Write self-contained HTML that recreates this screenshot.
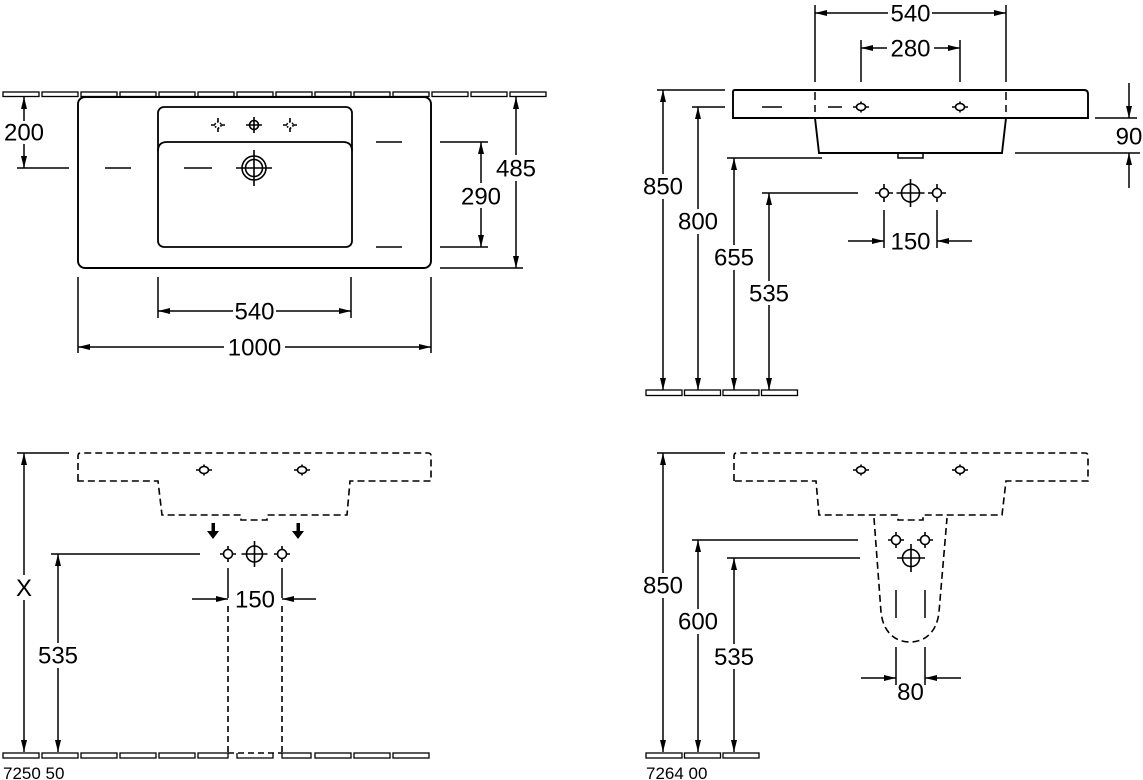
<!DOCTYPE html>
<html><head><meta charset="utf-8"><style>
html,body{margin:0;padding:0;background:#fff;}
svg{display:block;}
text{font-family:"Liberation Sans",Arial,sans-serif;fill:#000;}
</style></head><body>
<svg width="1143" height="780" viewBox="0 0 1143 780" xmlns="http://www.w3.org/2000/svg">
<rect width="1143" height="780" fill="#fff"/>
<g fill="none" stroke="#000" stroke-width="1.5">
<!-- ===== TOP LEFT ===== -->
<g stroke-width="1.3">
<rect x="3" y="92" width="36" height="4.5"/><rect x="42" y="92" width="36" height="4.5"/><rect x="81" y="92" width="36" height="4.5"/><rect x="120" y="92" width="36" height="4.5"/><rect x="159" y="92" width="36" height="4.5"/><rect x="198" y="92" width="36" height="4.5"/><rect x="237" y="92" width="36" height="4.5"/><rect x="276" y="92" width="36" height="4.5"/><rect x="315" y="92" width="36" height="4.5"/><rect x="354" y="92" width="36" height="4.5"/><rect x="393" y="92" width="36" height="4.5"/><rect x="432" y="92" width="36" height="4.5"/><rect x="471" y="92" width="36" height="4.5"/><rect x="510" y="92" width="36" height="4.5"/>
</g>
<rect x="78" y="97" width="353" height="171" rx="7" stroke-width="1.9"/>
<rect x="158" y="107" width="194" height="140" rx="6" stroke-width="1.8"/>
<path d="M158,151 Q158,142 167,142 L343,142 Q352,142 352,151" stroke-width="1.8"/>
<g stroke-width="1.6">
<circle cx="218" cy="125" r="3" stroke-dasharray="1.6,1.6"/>
<path d="M211,125H215M221,125H225M218,118V122M218,128V132"/>
<circle cx="290" cy="125" r="3" stroke-dasharray="1.6,1.6"/>
<path d="M283,125H287M293,125H297M290,118V122M290,128V132"/>
<circle cx="254" cy="125" r="4.5"/>
<path d="M246,125H262M254,117V133"/>
<circle cx="254" cy="168" r="12"/><circle cx="254" cy="168" r="8.5"/>
<path d="M236,168H272M254,150V186"/>
</g>
<path d="M105,168H131M184,168H212M376,142H402M376,247H402"/>
<path d="M17,168H69M24,97V121M24,144V168"/>
<path d="M440,142H488M440,247H488M481,142V183M481,208V247"/>
<path d="M440,268H523M516,97V155M516,181V268"/>
<path d="M158,277V318M351,277V318M158,311H233M276,311H351"/>
<path d="M78,277V353M431,277V353M78,347H224M285,347H431"/>

<!-- ===== TOP RIGHT ===== -->
<path d="M815,5V82M1006,5V82M815,13H888M932,13H1006"/>
<path d="M861,40V82M960,40V82M861,48H887M934,48H960"/>
<path d="M733,118L733,92Q733,90 735,90L1084,90Q1088,90 1088,94L1088,118Z" stroke-width="1.9"/>
<path d="M815,118L819,153L1002,153L1006,118" stroke-width="1.9"/>
<path d="M898,153V158H923V153"/>
<path d="M815,92V100M815,105V112M1006,92V100M1006,105V112M762,107H782M828,107H842"/>
<g stroke-width="1.6">
<ellipse cx="861" cy="107" rx="4.5" ry="3.5"/><path d="M853,107H856.5M865.5,107H869M861,101.5V103.5M861,110.5V112.5"/>
<ellipse cx="960" cy="107" rx="4.5" ry="3.5"/><path d="M952,107H955.5M964.5,107H968M960,101.5V103.5M960,110.5V112.5"/>
</g>
<path d="M1095,118H1137M1015,153H1140M1129,83V118M1129,153V188"/>
<path d="M657,90H725M692,107H725M727,158H822M762,193H858"/>
<path d="M663,90V174M663,199V390M698,107V209M698,234V390M734,158V245M734,270V390M769,193V281M769,305V390"/>
<g stroke-width="1.3"><rect x="646" y="390" width="36" height="5.5"/><rect x="684.5" y="390" width="36" height="5.5"/><rect x="723" y="390" width="36" height="5.5"/><rect x="761.5" y="390" width="36" height="5.5"/></g>
<g stroke-width="1.6">
<circle cx="884" cy="193" r="4.5"/><path d="M875,193H879.5M888.5,193H893M884,184V188.5M884,197.5V202"/>
<circle cx="937" cy="193" r="4.5"/><path d="M928,193H932.5M941.5,193H946M937,184V188.5M937,197.5V202"/>
<circle cx="910.5" cy="193" r="9"/><path d="M896.5,193H924.5M910.5,179V207"/>
</g>
<path d="M884,210V248M937,210V248M848,241H884M937,241H972"/>

<!-- ===== BOTTOM LEFT ===== -->
<path d="M17,453H69M24,453V575M24,600V752M51,554H200M58,554V643M58,668V752"/>
<path d="M78,481L78,456Q78,453 81,453L428,453Q431,453 431,456L431,481L350,481L347,515L267,515L267,520L241,520L241,515L162,515L158,481Z" stroke-dasharray="7,4" stroke-width="1.6"/>
<g stroke-width="1.6">
<ellipse cx="204" cy="470" rx="4.5" ry="3.5"/><path d="M196,470H199.5M208.5,470H212M204,464.5V466.5M204,473.5V475.5"/>
<ellipse cx="302" cy="470" rx="4.5" ry="3.5"/><path d="M294,470H297.5M306.5,470H310M302,464.5V466.5M302,473.5V475.5"/>
<circle cx="228" cy="554" r="4.5"/><path d="M220,554H223.5M232.5,554H236M228,546V549.5M228,558.5V562"/>
<circle cx="282" cy="554" r="4.5"/><path d="M274,554H277.5M286.5,554H290M282,546V549.5M282,558.5V562"/>
<circle cx="254.5" cy="554" r="8"/><path d="M241.5,554H267.5M254.5,541V567"/>
</g>
<path d="M228,568V598M282,568V598M192,599H228M282,599H316"/>
<path d="M228,606V752M282,606V752M228,753H282" stroke-dasharray="6,4" stroke-width="1.6"/>
<g stroke-width="1.3"><rect x="3" y="753" width="36" height="5"/><rect x="42" y="753" width="36" height="5"/><rect x="81" y="753" width="36" height="5"/><rect x="120" y="753" width="36" height="5"/><rect x="159" y="753" width="36" height="5"/><rect x="198" y="753" width="30" height="5"/><path d="M237,753V758H273V753"/><rect x="282" y="753" width="29" height="5"/><rect x="315" y="753" width="36" height="5"/><rect x="354" y="753" width="36" height="5"/><rect x="393" y="753" width="36" height="5"/></g>

<!-- ===== BOTTOM RIGHT ===== -->
<path d="M657,453H725M663,453V573M663,598V752M692,540H858M698,540V609M698,634V752M727,558H860M734,558V644M734,669V752"/>
<path d="M734,481L734,456Q734,453 737,453L1085,453Q1088,453 1088,456L1088,481L1006,481L1002,515L923,515L923,520L898,520L898,515L819,515L816,481Z" stroke-dasharray="7,4" stroke-width="1.6"/>
<g stroke-width="1.6">
<ellipse cx="861" cy="470" rx="4.5" ry="3.5"/><path d="M853,470H856.5M865.5,470H869M861,464.5V466.5M861,473.5V475.5"/>
<ellipse cx="960" cy="470" rx="4.5" ry="3.5"/><path d="M952,470H955.5M964.5,470H968M960,464.5V466.5M960,473.5V475.5"/>
</g>
<path d="M874,518L881,612C883,632 895,642 910,642C925,642 937,632 939,612L947,518" stroke-dasharray="7,4" stroke-width="1.6"/>
<g stroke-width="1.6">
<circle cx="896" cy="540" r="4.5"/><path d="M888,540H891.5M900.5,540H904M896,532V535.5M896,544.5V548"/>
<circle cx="925" cy="540" r="4.5"/><path d="M917,540H920.5M929.5,540H933M925,532V535.5M925,544.5V548"/>
<circle cx="911" cy="558" r="8.5"/><path d="M897,558H925M911,544V572"/>
</g>
<path d="M896,590V618M925,590V618M896,647V685M925,647V685M861,678H896M925,678H961"/>
<g stroke-width="1.3"><rect x="646" y="753" width="36" height="5"/><rect x="684.5" y="753" width="36" height="5"/><rect x="723" y="753" width="36" height="5"/></g>
</g>

<g fill="#000" stroke="none">
<polygon points="24,97 21,109 27,109"/><polygon points="24,168 21,156 27,156"/>
<polygon points="481,142 478,154 484,154"/><polygon points="481,247 478,235 484,235"/>
<polygon points="516,97 513,109 519,109"/><polygon points="516,268 513,256 519,256"/>
<polygon points="158,311 170,308 170,314"/><polygon points="351,311 339,308 339,314"/>
<polygon points="78,347 90,344 90,350"/><polygon points="431,347 419,344 419,350"/>

<polygon points="815,13 827,10 827,16"/><polygon points="1006,13 994,10 994,16"/>
<polygon points="861,48 873,45 873,51"/><polygon points="960,48 948,45 948,51"/>
<polygon points="1129,118 1126,106 1132,106"/><polygon points="1129,153 1126,165 1132,165"/>
<polygon points="663,90 660,102 666,102"/><polygon points="663,390 660,378 666,378"/>
<polygon points="698,107 695,119 701,119"/><polygon points="698,390 695,378 701,378"/>
<polygon points="734,158 731,170 737,170"/><polygon points="734,390 731,378 737,378"/>
<polygon points="769,193 766,205 772,205"/><polygon points="769,390 766,378 772,378"/>
<polygon points="884,241 872,238 872,244"/><polygon points="937,241 949,238 949,244"/>

<polygon points="24,453 21,465 27,465"/><polygon points="24,752 21,740 27,740"/>
<polygon points="58,554 55,566 61,566"/><polygon points="58,752 55,740 61,740"/>
<polygon points="228,599 216,596 216,602"/><polygon points="282,599 294,596 294,602"/>
<rect x="211.5" y="523" width="3.5" height="9"/><polygon points="207,531 219,531 213,539"/>
<rect x="296.5" y="523" width="3.5" height="9"/><polygon points="292,531 304,531 298,539"/>

<polygon points="663,453 660,465 666,465"/><polygon points="663,752 660,740 666,740"/>
<polygon points="698,540 695,552 701,552"/><polygon points="698,752 695,740 701,740"/>
<polygon points="734,558 731,570 737,570"/><polygon points="734,752 731,740 737,740"/>
<polygon points="896,678 884,675 884,681"/><polygon points="925,678 937,675 937,681"/>
</g>

<g font-size="24" text-anchor="middle">
<text x="24" y="140.5">200</text>
<text x="481" y="204.5">290</text>
<text x="516" y="176.5">485</text>
<text x="254.5" y="319.5">540</text>
<text x="254.5" y="355.5">1000</text>

<text x="910.5" y="21.5">540</text>
<text x="910.5" y="56.5">280</text>
<text x="1129" y="144.5">90</text>
<text x="663" y="194.5">850</text>
<text x="698" y="229.5">800</text>
<text x="734" y="265.5">655</text>
<text x="769" y="301.5">535</text>
<text x="910.5" y="249.5">150</text>

<text x="24" y="596">X</text>
<text x="58" y="663.5">535</text>
<text x="255" y="607.5">150</text>

<text x="663" y="593.5">850</text>
<text x="698" y="629.5">600</text>
<text x="734" y="665">535</text>
<text x="910.5" y="700">80</text>
</g>
<g font-size="17">
<text x="3" y="779">7250 50</text>
<text x="646" y="779">7264 00</text>
</g>
</svg>
</body></html>
